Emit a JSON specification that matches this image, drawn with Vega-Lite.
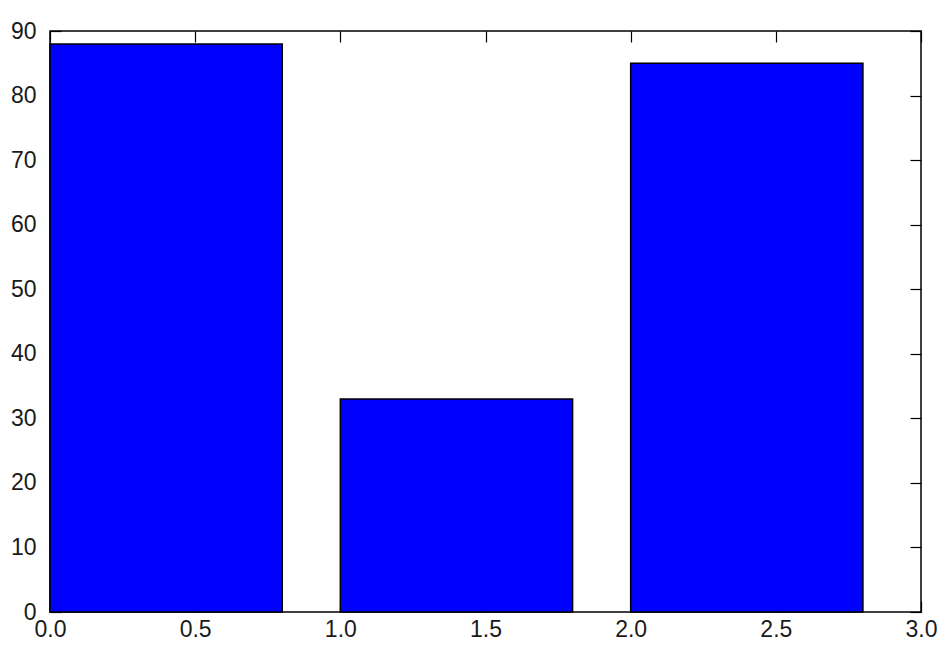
{
  "$schema": "https://vega.github.io/schema/vega-lite/v6.json",
  "autosize": "none",
  "width": 871,
  "height": 581,
  "padding": {"left": 50, "top": 31, "right": 27, "bottom": 54},
  "background": "white",
  "config": {
    "view": {"stroke": "black", "strokeWidth": 1.5},
    "axis": {
      "grid": false,
      "domain": false,
      "tickColor": "black",
      "tickWidth": 1.2,
      "tickSize": -11,
      "labelFont": "Liberation Sans",
      "labelFontSize": 23,
      "labelColor": "#1a1a1a",
      "title": null
    }
  },
  "data": {
    "values": [
      {"x0": 0, "x1": 0.8, "value": 88},
      {"x0": 1, "x1": 1.8, "value": 33},
      {"x0": 2, "x1": 2.8, "value": 85}
    ]
  },
  "layer": [
    {
      "mark": {"type": "bar", "fill": "#0000ff", "stroke": "black", "strokeWidth": 1.5, "orient": "vertical"},
      "encoding": {
        "x": {"field": "x0", "type": "quantitative",
              "scale": {"domain": [0, 3], "nice": false, "zero": false, "padding": 0},
              "axis": {"orient": "bottom", "values": [0, 0.5, 1, 1.5, 2, 2.5, 3], "format": ".1f", "labelPadding": 17, "labelFlush": false}},
        "x2": {"field": "x1"},
        "y": {"field": "value", "type": "quantitative",
              "scale": {"domain": [0, 90], "nice": false, "padding": 0},
              "axis": {"orient": "left", "values": [0, 10, 20, 30, 40, 50, 60, 70, 80, 90], "labelPadding": 25, "labelFlush": false}},
        "y2": {"datum": 0}
      }
    },
    {
      "mark": {"type": "bar", "opacity": 0, "orient": "vertical"},
      "encoding": {
        "x": {"field": "x0", "type": "quantitative",
              "axis": {"orient": "top", "values": [0, 0.5, 1, 1.5, 2, 2.5, 3], "labels": false}},
        "x2": {"field": "x1"},
        "y": {"field": "value", "type": "quantitative",
              "axis": {"orient": "right", "values": [0, 10, 20, 30, 40, 50, 60, 70, 80, 90], "labels": false}},
        "y2": {"datum": 0}
      }
    }
  ],
  "resolve": {"axis": {"x": "independent", "y": "independent"}}
}
